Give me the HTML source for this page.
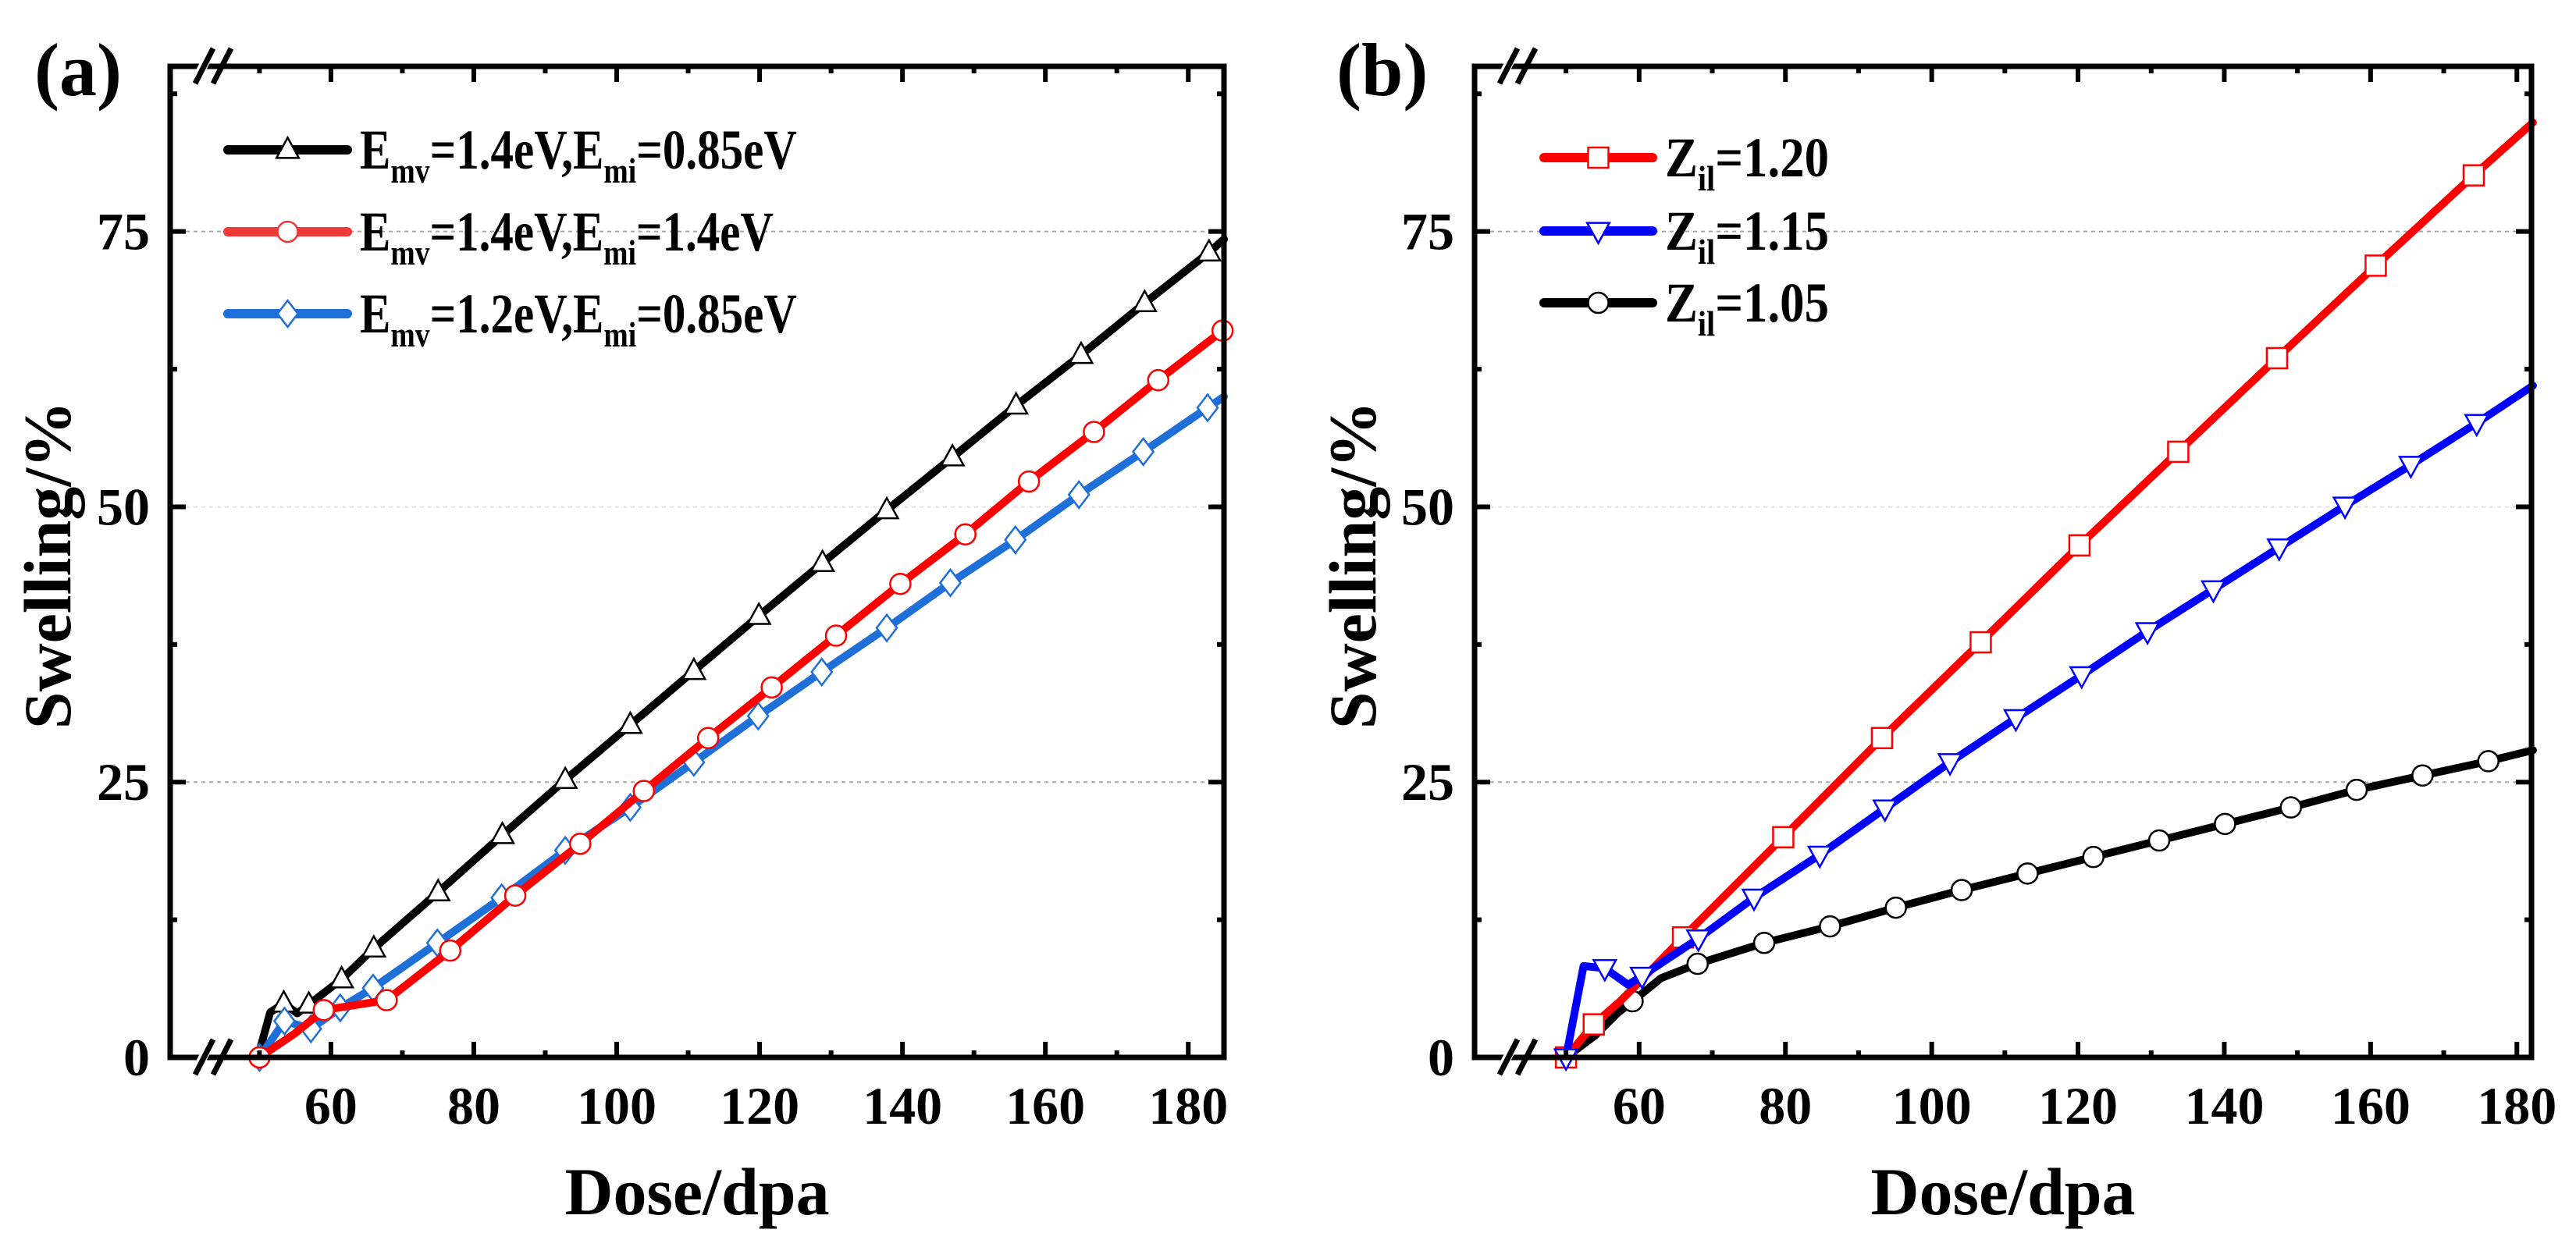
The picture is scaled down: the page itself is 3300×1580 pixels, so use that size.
<!DOCTYPE html>
<html><head><meta charset="utf-8"><style>
html,body{margin:0;padding:0;background:#fff;}
svg{display:block;font-family:"Liberation Serif","Times New Roman",serif;font-weight:bold;}
</style></head><body>
<svg id="chart" width="3300" height="1580" viewBox="0 0 3300 1580" xmlns="http://www.w3.org/2000/svg">
<rect width="3300" height="1580" fill="#fff"/>
</svg>
<script>
// ---------- data: panel (a) ----------
const aBlackLineX = [50,50.1,51.5,53.4,55.3,56.9,61.5,66,75,84,92.8,101.9,110.8,119.9,128.8,137.8,147,155.9,165,173.9,182.9,185];
const aBlackLineY = [0,0.8,4.1,4.9,4.0,4.8,7.1,9.9,15,20.2,25.2,30.2,35.1,40.1,44.9,49.7,54.5,59.2,63.8,68.5,73.1,74.3];
const aBlackMarkX = [53.4,56.9,61.5,66,75,84,92.8,101.9,110.8,119.9,128.8,137.8,147,155.9,165,173.9,182.9];
const aBlackMarkY = [4.9,4.8,7.1,9.9,15,20.2,25.2,30.2,35.1,40.1,44.9,49.7,54.5,59.2,63.8,68.5,73.1];
const aRedLineX = [50,55,59,67.8,76.7,85.8,94.9,103.8,112.8,121.7,130.7,139.7,148.8,157.7,166.8,175.8,184.8];
const aRedLineY = [0,2.2,4.3,5.2,9.7,14.7,19.4,24.2,29,33.6,38.3,43,47.5,52.3,56.8,61.5,66];
const aRedMarkX = [50,59,67.8,76.7,85.8,94.9,103.8,112.8,121.7,130.7,139.7,148.8,157.7,166.8,175.8,184.8];
const aRedMarkY = [0,4.3,5.2,9.7,14.7,19.4,24.2,29,33.6,38.3,43,47.5,52.3,56.8,61.5,66];
const aBlueLineX = [50,53.5,57.2,61.3,65.9,74.9,83.9,92.8,101.9,110.8,119.8,128.7,137.8,146.7,155.8,164.7,173.7,182.7,185];
const aBlueLineY = [0,3.3,2.6,4.5,6.3,10.4,14.5,18.8,22.7,26.8,31,35,39,43.1,47,51.1,55,59,60];
const aBlueMarkX = [50,53.5,57.2,61.3,65.9,74.9,83.9,92.8,101.9,110.8,119.8,128.7,137.8,146.7,155.8,164.7,173.7,182.7];
const aBlueMarkY = [0,3.3,2.6,4.5,6.3,10.4,14.5,18.8,22.7,26.8,31,35,39,43.1,47,51.1,55,59];
// ---------- data: panel (b) ----------
const bRedLineX = [50,53.8,57.4,61,66,79.7,93.2,106.7,120.2,133.7,147.2,160.7,174.1,182.2];
const bRedLineY = [0,3.0,5.1,7.5,10.9,20,29,37.7,46.5,55,63.5,71.9,80.1,84.9];
const bRedMarkX = [50,53.8,66,79.7,93.2,106.7,120.2,133.7,147.2,160.7,174.1];
const bRedMarkY = [0,3.0,10.9,20,29,37.7,46.5,55,63.5,71.9,80.1];
const bBlueLineX = [50,52.4,55.3,58.5,60.4,68.1,75.7,84.7,93.6,102.5,111.5,120.5,129.5,138.5,147.5,156.5,165.5,174.5,182.2];
const bBlueLineY = [0,8.3,8.1,6.6,7.4,10.8,14.5,18.4,22.6,26.8,30.8,34.7,38.7,42.5,46.3,50.1,53.8,57.6,61];
const bBlueMarkX = [50,55.3,60.4,68.1,75.7,84.7,93.6,102.5,111.5,120.5,129.5,138.5,147.5,156.5,165.5,174.5];
const bBlueMarkY = [0,8.1,7.4,10.8,14.5,18.4,22.6,26.8,30.8,34.7,38.7,42.5,46.3,50.1,53.8,57.6];
const bBlackLineX = [50,54,57,59.1,63,68,77.1,86.1,95.1,104.1,113.1,122.1,131.1,140.1,149.1,158.1,167.1,176.1,182.2];
const bBlackLineY = [0,2.0,4.0,5.1,7.2,8.5,10.4,11.9,13.6,15.2,16.7,18.2,19.7,21.2,22.7,24.3,25.6,26.9,27.9];
const bBlackMarkX = [50,59.1,68,77.1,86.1,95.1,104.1,113.1,122.1,131.1,140.1,149.1,158.1,167.1,176.1];
const bBlackMarkY = [0,5.1,8.5,10.4,11.9,13.6,15.2,16.7,18.2,19.7,21.2,22.7,24.3,25.6,26.9];
// ticks
const xTickLabels = [60,80,100,120,140,160,180];
const yTickLabels = [0,25,50,75];

const NS = "http://www.w3.org/2000/svg";
const svg = document.getElementById('chart');
function mk(tag, attrs, parent){
  const e = document.createElementNS(NS, tag);
  for (const k in attrs) e.setAttribute(k, attrs[k]);
  (parent||svg).appendChild(e);
  return e;
}

function panel(cfg){
  const g = mk('g', {});
  
  
  const L=cfg.left, R=cfg.right, T=85, B=1355;
  const sx = v => L + (v - cfg.xmin) / (cfg.xmax - cfg.xmin) * (R - L);
  const sy = v => B - v / 90 * (B - T);
  [25,50,75].forEach(v=>{
    const gl = mk('line',{x1:L,x2:R,y1:sy(v),y2:sy(v),stroke:v===50?'#e4e4e4':'#a8a8a8','stroke-width':2,'stroke-dasharray':'5,5'},g);
    
    
  });
  cfg.series.forEach(s=>{
    const pts = s.lx.map((x,i)=>sx(x)+','+sy(s.ly[i])).join(' ');
    const pl = mk('polyline',{points:pts,fill:'none',stroke:s.color,'stroke-width':10,'stroke-linejoin':'round','stroke-linecap':'round'},g);
    
    
    s.mx.forEach((x,i)=>{
      const m = marker(g, s.marker, sx(x), sy(s.my[i]), s.color, 13);
      
      
    });
  });
  const fr = mk('rect',{x:L,y:T,width:R-L,height:B-T,fill:'none',stroke:'#000','stroke-width':7},g);
  
  
  for (let v=40; v<=cfg.xmax; v+=10){
    if (v < cfg.xmin+3) continue;
    const major = v % 20 === 0;
    const len = major ? 20 : 9;
    const x = sx(v);
    const t1 = mk('line',{x1:x,x2:x,y1:B,y2:B-len,stroke:'#000','stroke-width':6},g);
    
    
    const t2 = mk('line',{x1:x,x2:x,y1:T,y2:T+len,stroke:'#000','stroke-width':6},g);
    
    
  }
  xTickLabels.forEach(v=>{
    const t = mk('text',{x:sx(v),y:1440,'font-size':68,'text-anchor':'middle'},g);
    t.textContent = v;
    
    
  });
  for (let v=12.5; v<90; v+=12.5){
    const major = (v % 25) === 0;
    const len = major ? 20 : 9;
    const y = sy(v);
    const t1 = mk('line',{x1:L,x2:L+len,y1:y,y2:y,stroke:'#000','stroke-width':6},g);
    
    
    const t2 = mk('line',{x1:R,x2:R-len,y1:y,y2:y,stroke:'#000','stroke-width':6},g);
    
    
  }
  yTickLabels.forEach(v=>{
    const t = mk('text',{x:L-26,y:sy(v)+23,'font-size':68,'text-anchor':'end'},g);
    t.textContent = v;
    
    
  });
  [B,T].forEach(yy=>{
    const wb = mk('polygon',{points:`${L+24},${yy+22} ${L+47},${yy-22} ${L+60},${yy-22} ${L+37},${yy+22}`,fill:'#fff'},g);
    
    
    [0,23].forEach(o=>{
      const bl = mk('line',{x1:L+32+o,y1:yy+22,x2:L+55+o,y2:yy-23,stroke:'#000','stroke-width':7},g);
      
      
    });
  });
  const xt = mk('text',{x:(L+R)/2,y:1556,'font-size':86,'text-anchor':'middle'},g);
  xt.textContent='Dose/dpa';
  
  
  const yt = mk('text',{x:0,y:0,'font-size':86,'text-anchor':'middle',transform:`translate(${cfg.ytx},724) rotate(-90)`},g);
  yt.textContent='Swelling/%';
  
  
  const pl = mk('text',{x:cfg.plx,y:122,'font-size':96},g);
  pl.textContent=cfg.label;
  
  
  cfg.legend.forEach((e,i)=>{
    const y = cfg.legY[i];
    const lg = mk('g',{},g);
    
    
    mk('line',{x1:cfg.legX1,x2:cfg.legX2,y1:y,y2:y,stroke:e.color,'stroke-width':12,'stroke-linecap':'round'},lg);
    marker(lg, e.marker, (cfg.legX1+cfg.legX2)/2, y, e.color, 13);
    const t = mk('text',{x:cfg.legX2+16,y:y+24,'font-size':72,'textLength':cfg.legW[i],'lengthAdjust':'spacingAndGlyphs'},lg);
    e.parts.forEach(p=>{
      const ts = mk('tspan', p.sub ? {'font-size':46,dy:18} : {dy:p.up?-18:0}, t);
      ts.textContent = p.t;
    });
  });
}

function marker(parent, type, x, y, color, r){
  let m;
  if (type==='circle') m = mk('circle',{cx:x,cy:y,r:r,fill:'#fff',stroke:color,'stroke-width':2.5},parent);
  else if (type==='tri') m = mk('polygon',{points:`${x},${y-r*1.2} ${x-r*1.1},${y+r*0.8} ${x+r*1.1},${y+r*0.8}`,fill:'#fff',stroke:color,'stroke-width':2.5},parent);
  else if (type==='tridown') m = mk('polygon',{points:`${x},${y+r*1.2} ${x-r*1.1},${y-r*0.8} ${x+r*1.1},${y-r*0.8}`,fill:'#fff',stroke:color,'stroke-width':2.5},parent);
  else if (type==='diamond') m = mk('polygon',{points:`${x},${y-r*1.3} ${x+r},${y} ${x},${y+r*1.3} ${x-r},${y}`,fill:'#fff',stroke:color,'stroke-width':2.5},parent);
  else m = mk('rect',{x:x-r,y:y-r,width:2*r,height:2*r,fill:'#fff',stroke:color,'stroke-width':2.5},parent);
  return m;
}

panel({name:'panel-a', left:218, right:1568, xmin:37.5, xmax:185, ytx:90, plx:44, label:'(a)',
  series:[
    {name:'a-emv14-emi085', color:'#000', marker:'tri', lx:aBlackLineX, ly:aBlackLineY, mx:aBlackMarkX, my:aBlackMarkY},
    {name:'a-emv12-emi085', color:'#1f6fd8', marker:'diamond', lx:aBlueLineX, ly:aBlueLineY, mx:aBlueMarkX, my:aBlueMarkY},
    {name:'a-emv14-emi14', color:'#ff0000', marker:'circle', lx:aRedLineX, ly:aRedLineY, mx:aRedMarkX, my:aRedMarkY}
  ],
  legX1:292, legX2:445, legY:[192,297,402], legW:[560,530,560],
  legend:[
    {color:'#000', marker:'tri', parts:[{t:'E'},{t:'mv',sub:true},{t:'=1.4eV,E',up:true},{t:'mi',sub:true},{t:'=0.85eV',up:true}]},
    {color:'#f03a3a', marker:'circle', parts:[{t:'E'},{t:'mv',sub:true},{t:'=1.4eV,E',up:true},{t:'mi',sub:true},{t:'=1.4eV',up:true}]},
    {color:'#1f6fd8', marker:'diamond', parts:[{t:'E'},{t:'mv',sub:true},{t:'=1.2eV,E',up:true},{t:'mi',sub:true},{t:'=0.85eV',up:true}]}
  ]});

panel({name:'panel-b', left:1889, right:3243, xmin:37.5, xmax:182, ytx:1762, plx:1712, label:'(b)',
  series:[
    {name:'b-zil-105', color:'#000', marker:'circle', lx:bBlackLineX, ly:bBlackLineY, mx:bBlackMarkX, my:bBlackMarkY},
    {name:'b-zil-120', color:'#ff0000', marker:'square', lx:bRedLineX, ly:bRedLineY, mx:bRedMarkX, my:bRedMarkY},
    {name:'b-zil-115', color:'#0000ff', marker:'tridown', lx:bBlueLineX, ly:bBlueLineY, mx:bBlueMarkX, my:bBlueMarkY}
  ],
  legX1:1978, legX2:2117, legY:[202,296,388], legW:[210,210,210],
  legend:[
    {color:'#ff0000', marker:'square', parts:[{t:'Z'},{t:'il',sub:true},{t:'=1.20',up:true}]},
    {color:'#0000ff', marker:'tridown', parts:[{t:'Z'},{t:'il',sub:true},{t:'=1.15',up:true}]},
    {color:'#000', marker:'circle', parts:[{t:'Z'},{t:'il',sub:true},{t:'=1.05',up:true}]}
  ]});
</script>
</body></html>
